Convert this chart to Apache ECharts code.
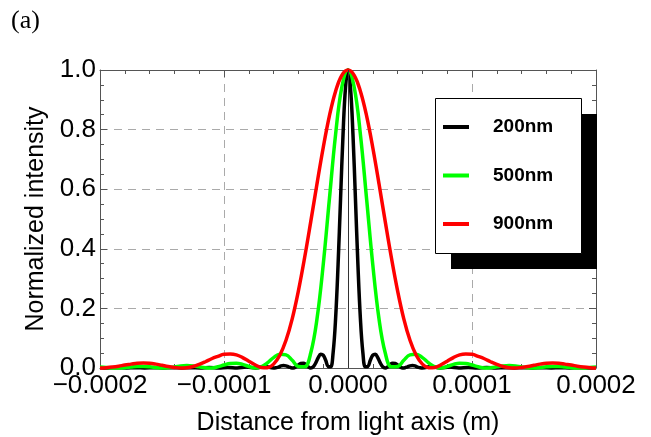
<!DOCTYPE html>
<html>
<head>
<meta charset="utf-8">
<script src="https://cdn.jsdelivr.net/npm/echarts@6/dist/echarts.min.js"></script>
<style>
html,body{margin:0;padding:0;background:#fff;}
#chart{width:651px;height:437px;}
</style>
</head>
<body>
<div id="chart"></div>
<script>
// Distances are in metres; each profile is symmetric about 0, values read for x >= 0.
const seriesNames = ["200nm", "500nm", "900nm"];
const seriesColors = ["#000000", "#00ff00", "#ff0000"];

// 200 nm (offsets in micrometres)
const offsets200 = [0,2,4,6,8,10,12,14,16,18,20,22,24,26,28,30,32,34,36,38,40,42,44,46,48,50,52,54,56,58,60,
  67,74.5,82,89.4,96.9,104.3,111.8,119.2,126.7,134.1,141.6,149,156.5,163.9,171.4,178.8,186.3,193.7,200];
const values200 = [1,0.942,0.784,0.568,0.347,0.166,0.051,0.004,0.005,0.026,0.043,0.046,0.035,0.017,0.004,0.000,
  0.004,0.012,0.016,0.015,0.010,0.004,0.000,0.001,0.004,0.007,0.008,0.007,0.003,0.001,0.000,
  0.005,0,0.003,0,0.002,0,0.002,0,0.001,0,0.001,0,0.001,0,0.001,0,0.001,0,0.001];

// 500 nm
const offsets500 = [0,5,10,15,20,25,30,35,40,45,50,55,60,65,70,75,80,85,90,95,100,105,110,115,120,125,130,135,140,145,150,155,160,165,170,175,180,185,190,195,200];
const values500 = [1,0.942,0.784,0.567,0.346,0.165,0.051,0.004,0.005,0.026,0.044,0.046,0.035,0.017,0.004,0.000,
  0.005,0.012,0.016,0.015,0.010,0.004,0.000,0.001,0.004,0.007,0.008,0.007,0.003,0.001,0.000,
  0.002,0.004,0.005,0.005,0.003,0.001,0.000,0.000,0.002,0.003];

// 900 nm
const offsets900 = [0,5,10,15,20,25,30,35,40,45,50,55,60,65,70,75,80,85,90,95,100,105,110,115,120,125,130,135,140,145,150,155,160,165,170,175,180,185,190,195,200];
const values900 = [1,0.982,0.929,0.846,0.739,0.618,0.492,0.370,0.259,0.165,0.093,0.043,0.013,0.001,0.002,0.011,
  0.023,0.035,0.044,0.047,0.046,0.039,0.031,0.021,0.012,0.005,0.001,0.000,0.002,0.005,0.009,0.013,0.016,0.017,
  0.016,0.013,0.010,0.006,0.003,0.001,0.000];

const xTicks = [-0.0002, -0.0001, 0, 0.0001, 0.0002];
const xTickLabels = ["\u22120.0002", "\u22120.0001", "0.0000", "0.0001", "0.0002"];
const yTickLabels = ["0.0", "0.2", "0.4", "0.6", "0.8", "1.0"];

function buildProfile(offs, vals) {
  const pts = [];
  for (let i = offs.length - 1; i > 0; i--) pts.push([-offs[i] * 1e-6, vals[i]]);
  for (let i = 0; i < offs.length; i++) pts.push([offs[i] * 1e-6, vals[i]]);
  return pts;
}
const profiles = [
  buildProfile(offsets200, values200),
  buildProfile(offsets500, values500),
  buildProfile(offsets900, values900)
];

function xLabel(v) {
  let best = 0;
  for (let i = 1; i < xTicks.length; i++) if (Math.abs(xTicks[i] - v) < Math.abs(xTicks[best] - v)) best = i;
  return xTickLabels[best];
}
function yLabel(v) { return yTickLabels[Math.round(v / 0.2)]; }

const FONT = "Arial, 'Liberation Sans', sans-serif";
const frameColor = "#555";
const chart = echarts.init(document.getElementById("chart"), null, {renderer: "canvas"});

const series = profiles.map((d, i) => ({
  name: seriesNames[i],
  type: "line",
  data: d,
  smooth: 0.4,
  showSymbol: false,
  symbol: "none",
  clip: false,
  lineStyle: {color: seriesColors[i], width: 3.5},
  itemStyle: {color: seriesColors[i]},
  z: 2 + i,
  animation: false
}));
series[0].markLine = {
  silent: true,
  symbol: ["none", "none"],
  label: {show: false},
  lineStyle: {color: "#333", width: 1, type: "solid"},
  data: [{xAxis: 0}],
  animation: false
};

const gridSplit = {show: true, lineStyle: {color: "#aaaaaa", width: 1, type: [8, 6]}};

chart.setOption({
  animation: false,
  backgroundColor: "#fff",
  title: {
    text: "(a)", left: 11, top: 8, padding: 0,
    textStyle: {fontFamily: "'Liberation Serif', 'Times New Roman', serif", fontSize: 26, fontWeight: "normal", color: "#000"}
  },
  grid: {left: 100, right: 55, top: 70, bottom: 69, containLabel: false, outerBoundsMode: "none"},
  xAxis: [{
    type: "value", min: -0.0002, max: 0.0002, interval: 0.0001, position: "bottom",
    axisLine: {show: true, onZero: false, lineStyle: {color: frameColor, width: 1}},
    axisTick: {show: true, inside: true, length: 7, lineStyle: {color: frameColor}},
    minorTick: {show: true, splitNumber: 5, length: 4, lineStyle: {color: frameColor}},
    axisLabel: {formatter: xLabel, fontFamily: FONT, fontSize: 26, color: "#000", margin: 5},
    splitLine: gridSplit,
    name: "Distance from light axis (m)", nameLocation: "middle", nameGap: 43,
    nameTextStyle: {fontFamily: FONT, fontSize: 25, color: "#000"}
  }, {
    type: "value", min: -0.0002, max: 0.0002, interval: 0.0001, position: "top",
    axisLine: {show: true, onZero: false, lineStyle: {color: frameColor, width: 1}},
    axisTick: {show: true, inside: true, length: 7, lineStyle: {color: frameColor}},
    minorTick: {show: true, splitNumber: 5, length: 4, lineStyle: {color: frameColor}},
    axisLabel: {show: false}, splitLine: {show: false}
  }],
  yAxis: [{
    type: "value", min: 0, max: 1, interval: 0.2, position: "left",
    axisLine: {show: true, onZero: false, lineStyle: {color: frameColor, width: 1}},
    axisTick: {show: true, inside: true, length: 7, lineStyle: {color: frameColor}},
    minorTick: {show: true, splitNumber: 4, length: 4, lineStyle: {color: frameColor}},
    axisLabel: {formatter: yLabel, fontFamily: FONT, fontSize: 26, color: "#000", margin: 4},
    splitLine: gridSplit,
    name: "Normalized intensity", nameLocation: "middle", nameGap: 39,
    nameTextStyle: {fontFamily: FONT, fontSize: 25, color: "#000"}
  }, {
    type: "value", min: 0, max: 1, interval: 0.2, position: "right",
    axisLine: {show: true, onZero: false, lineStyle: {color: frameColor, width: 1}},
    axisTick: {show: true, inside: true, length: 7, lineStyle: {color: frameColor}},
    minorTick: {show: true, splitNumber: 4, length: 4, lineStyle: {color: frameColor}},
    axisLabel: {show: false}, splitLine: {show: false}
  }],
  legend: {
    orient: "vertical",
    left: 443, top: 117,
    padding: 0,
    itemWidth: 26, itemHeight: 4,
    itemGap: 28.5,
    icon: "rect",
    selectedMode: false,
    data: seriesNames,
    z: 10,
    textStyle: {fontFamily: FONT, fontSize: 19, fontWeight: "bold", color: "#000", lineHeight: 20, padding: [0, 0, 0, 19]}
  },
  graphic: [
    {type: "rect", left: 451, top: 114, z: 8, shape: {width: 146, height: 155}, style: {fill: "#000"}},
    {type: "rect", left: 435, top: 98, z: 9, shape: {width: 146, height: 155}, style: {fill: "#fff", stroke: "#000", lineWidth: 1}}
  ],
  series: series
});
</script>
</body>
</html>
